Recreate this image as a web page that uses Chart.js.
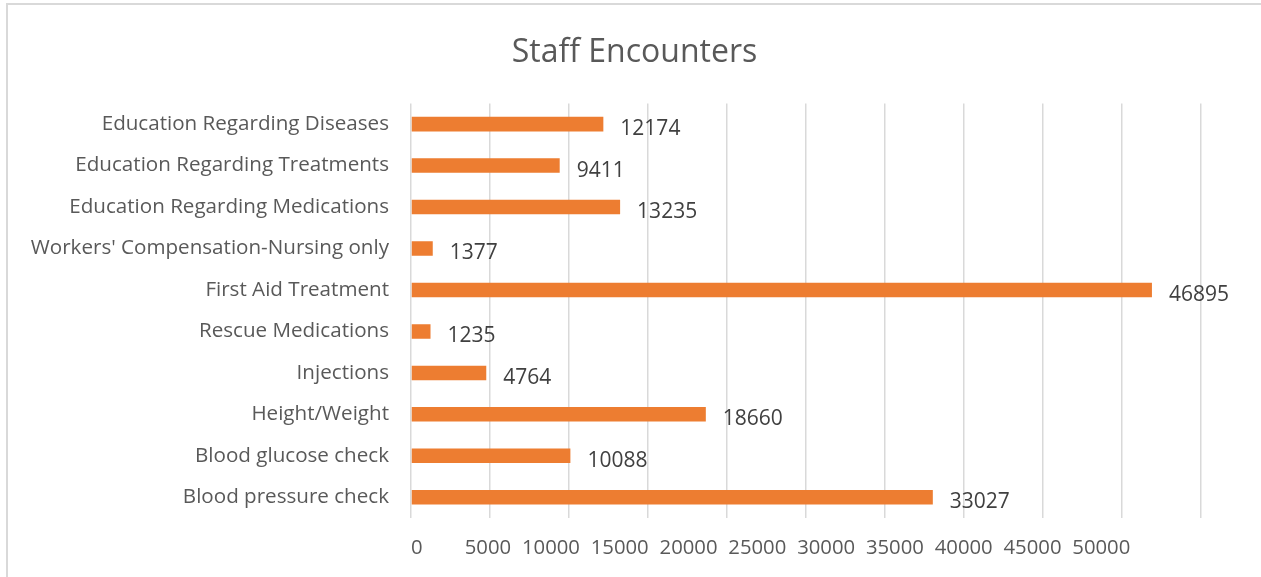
<!DOCTYPE html>
<html>
<head>
<meta charset="utf-8">
<script src="https://cdn.jsdelivr.net/npm/chart.js@4.4.1/dist/chart.umd.min.js"></script>
<style>
  html, body { margin: 0; padding: 0; background: #fff; overflow: hidden; }
  #frame { position: absolute; left: 6px; top: 3px; width: 1300px; height: 640px; border: 2px solid #d9d9d9; }
  #wrap { position: absolute; left: 0; top: 0; width: 1261px; height: 577px; }
</style>
</head>
<body>
<div id="frame"></div>
<div id="wrap"><canvas id="chart"></canvas></div>
<script>
// ------- Data --------------------------------------------------------------
const categories = [
  'Education Regarding Diseases',
  'Education Regarding Treatments',
  'Education Regarding Medications',
  "Workers' Compensation-Nursing only",
  'First Aid Treatment',
  'Rescue Medications',
  'Injections',
  'Height/Weight',
  'Blood glucose check',
  'Blood pressure check'
];
const encounters = [12174, 9411, 13235, 1377, 46895, 1235, 4764, 18660, 10088, 33027];
const xTickLabels = ['0', '5000', '10000', '15000', '20000', '25000', '30000', '35000', '40000', '45000', '50000'];

const FONT = "'Open Sans', sans-serif";

// value labels to the right of each bar (Excel style, nudged a bit low)
const valueLabels = {
  id: 'valueLabels',
  afterDatasetsDraw (chart) {
    const { ctx } = chart;
    const meta = chart.getDatasetMeta(0);
    ctx.save();
    ctx.font = `21px ${FONT}`;
    ctx.fillStyle = '#404040';
    ctx.textAlign = 'left';
    ctx.textBaseline = 'middle';
    meta.data.forEach((bar, i) => {
      ctx.fillText(String(encounters[i]), bar.x + 17, bar.y + 5);
    });
    ctx.restore();
  }
};

// the x labels in the original are laid out as one run of text
const xLabelText = xTickLabels[0] + ' '.repeat(8) + xTickLabels.slice(1).join('\u2004\u200A\u200A');

new Chart(document.getElementById('chart'), {
  type: 'bar',
  data: {
    labels: categories,
    datasets: [{
      data: encounters,
      backgroundColor: '#ED7D31',
      barPercentage: 0.7,
      categoryPercentage: 0.5
    }]
  },
  options: {
    indexAxis: 'y',
    responsive: true,
    maintainAspectRatio: false,
    animation: false,
    layout: { padding: { left: 8, right: 0, top: 0, bottom: 0 } },
    plugins: {
      legend: { display: false },
      tooltip: { enabled: false },
      title: {
        display: true,
        text: 'Staff Encounters',
        color: '#595959',
        font: { family: FONT, size: 32, weight: 'normal' },
        padding: { top: 34, bottom: 31 }
      }
    },
    scales: {
      x: {
        min: 0,
        max: 50000,
        ticks: { stepSize: 5000, display: false },
        grid: { color: '#d9d9d9', lineWidth: 1.5, drawTicks: false },
        border: { display: false },
        title: {
          display: true,
          align: 'start',
          text: xLabelText,
          color: '#595959',
          font: { family: FONT, size: 20.3 },
          padding: { top: 4, bottom: 17 }
        },
        afterFit (scale) { scale.height = 59; }
      },
      y: {
        grid: { display: false },
        border: { display: false },
        ticks: {
          color: '#595959',
          font: { family: FONT, size: 20.6 },
          padding: 14
        },
        afterFit (scale) { scale.width = 403; }
      },
      // empty right-hand axis only to keep the plot's right margin
      yRight: {
        position: 'right',
        grid: { display: false },
        border: { display: false },
        ticks: { display: false },
        afterFit (scale) { scale.width = 60; }
      }
    }
  },
  plugins: [valueLabels]
});
</script>
</body>
</html>
